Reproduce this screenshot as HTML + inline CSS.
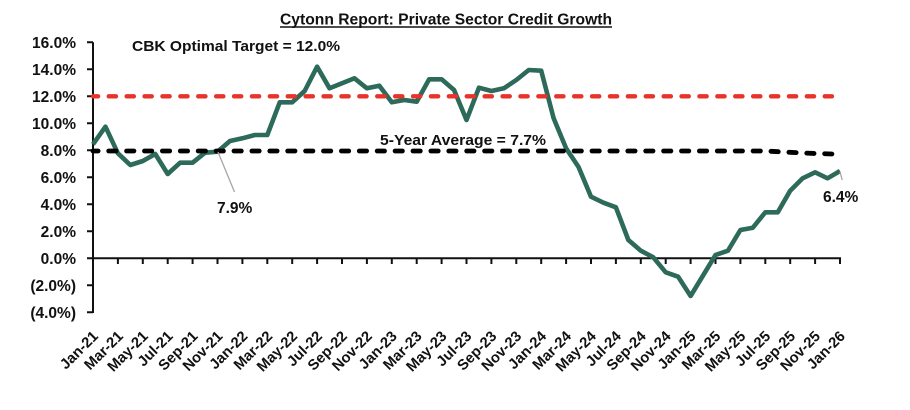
<!DOCTYPE html>
<html>
<head>
<meta charset="utf-8">
<style>
  html, body { margin: 0; padding: 0; background: #ffffff; }
  body { width: 910px; height: 410px; overflow: hidden; }
  svg { display: block; }
  text { font-family: "Liberation Sans", "DejaVu Sans", sans-serif; font-weight: bold; fill: #111111; }
</style>
</head>
<body>
<svg width="910" height="410" viewBox="0 0 910 410" xmlns="http://www.w3.org/2000/svg">
  <rect width="910" height="410" fill="#ffffff"/>

  <!-- Title -->
  <text x="280" y="24.5" font-size="16" textLength="332" lengthAdjust="spacingAndGlyphs">Cytonn Report: Private Sector Credit Growth</text>
  <line x1="280" y1="27" x2="612" y2="27" stroke="#111" stroke-width="1.4"/>

  <!-- Y axis labels -->
  <g font-size="15.5" text-anchor="end">
    <text x="76" y="47.8">16.0%</text>
    <text x="76" y="74.8">14.0%</text>
    <text x="76" y="101.8">12.0%</text>
    <text x="76" y="128.8">10.0%</text>
    <text x="76" y="155.8">8.0%</text>
    <text x="76" y="182.8">6.0%</text>
    <text x="76" y="209.8">4.0%</text>
    <text x="76" y="236.8">2.0%</text>
    <text x="76" y="263.8">0.0%</text>
    <text x="76" y="290.8">(2.0%)</text>
    <text x="76" y="317.8">(4.0%)</text>
  </g>

  <!-- Axes -->
  <g stroke="#111" stroke-width="2" fill="none">
    <line x1="93" y1="42.3" x2="93" y2="313"/>
    <line x1="92" y1="258.3" x2="841" y2="258.3"/>
    <path d="M87 42.3H93M87 69.3H93M87 96.3H93M87 123.3H93M87 150.3H93M87 177.3H93M87 204.3H93M87 231.3H93M87 258.3H93M87 285.3H93M87 312.3H93"/>
    <path d="M93 258.3V264M117.9 258.3V264M142.8 258.3V264M167.7 258.3V264M192.6 258.3V264M217.5 258.3V264M242.4 258.3V264M267.3 258.3V264M292.2 258.3V264M317.1 258.3V264M342 258.3V264M366.9 258.3V264M391.8 258.3V264M416.7 258.3V264M441.6 258.3V264M466.5 258.3V264M491.4 258.3V264M516.3 258.3V264M541.2 258.3V264M566.1 258.3V264M591 258.3V264M615.9 258.3V264M640.8 258.3V264M665.7 258.3V264M690.6 258.3V264M715.5 258.3V264M740.4 258.3V264M765.3 258.3V264M790.2 258.3V264M815.1 258.3V264M840 258.3V264"/>
  </g>

  <!-- X labels -->
  <g font-size="14.8" text-anchor="end">
    <text transform="translate(99,337) rotate(-45)">Jan-21</text>
    <text transform="translate(123.9,337) rotate(-45)">Mar-21</text>
    <text transform="translate(148.8,337) rotate(-45)">May-21</text>
    <text transform="translate(173.7,337) rotate(-45)">Jul-21</text>
    <text transform="translate(198.6,337) rotate(-45)">Sep-21</text>
    <text transform="translate(223.5,337) rotate(-45)">Nov-21</text>
    <text transform="translate(248.4,337) rotate(-45)">Jan-22</text>
    <text transform="translate(273.3,337) rotate(-45)">Mar-22</text>
    <text transform="translate(298.2,337) rotate(-45)">May-22</text>
    <text transform="translate(323.1,337) rotate(-45)">Jul-22</text>
    <text transform="translate(348,337) rotate(-45)">Sep-22</text>
    <text transform="translate(372.9,337) rotate(-45)">Nov-22</text>
    <text transform="translate(397.8,337) rotate(-45)">Jan-23</text>
    <text transform="translate(422.7,337) rotate(-45)">Mar-23</text>
    <text transform="translate(447.6,337) rotate(-45)">May-23</text>
    <text transform="translate(472.5,337) rotate(-45)">Jul-23</text>
    <text transform="translate(497.4,337) rotate(-45)">Sep-23</text>
    <text transform="translate(522.3,337) rotate(-45)">Nov-23</text>
    <text transform="translate(547.2,337) rotate(-45)">Jan-24</text>
    <text transform="translate(572.1,337) rotate(-45)">Mar-24</text>
    <text transform="translate(597,337) rotate(-45)">May-24</text>
    <text transform="translate(621.9,337) rotate(-45)">Jul-24</text>
    <text transform="translate(646.8,337) rotate(-45)">Sep-24</text>
    <text transform="translate(671.7,337) rotate(-45)">Nov-24</text>
    <text transform="translate(696.6,337) rotate(-45)">Jan-25</text>
    <text transform="translate(721.5,337) rotate(-45)">Mar-25</text>
    <text transform="translate(746.4,337) rotate(-45)">May-25</text>
    <text transform="translate(771.3,337) rotate(-45)">Jul-25</text>
    <text transform="translate(796.2,337) rotate(-45)">Sep-25</text>
    <text transform="translate(821.1,337) rotate(-45)">Nov-25</text>
    <text transform="translate(846,337) rotate(-45)">Jan-26</text>
  </g>

  <!-- Private sector credit growth series -->
  <polyline fill="none" stroke="#2D6A5A" stroke-width="4.6" stroke-linejoin="round" stroke-linecap="butt"
    points="93,144.3 105.45,126.7 117.9,153.3 130.35,165 142.8,161 155.25,154 167.7,174 180.15,162.7 192.6,162.7 205.05,152.7 217.5,151.7 229.95,141 242.4,138.3 254.85,135 267.3,135 279.75,102.3 292.2,102.3 304.65,91 317.1,66.7 329.55,88.3 342,83.3 354.45,78.3 366.9,88.3 379.35,85.7 391.8,102.3 404.25,100 416.7,101.7 429.15,79.3 441.6,79.3 454.05,90 466.5,120 478.95,87.7 491.4,91 503.85,88.3 516.3,80 528.75,70 541.2,70.7 553.65,118.3 566.1,148.3 578.55,167 591,196.7 603.45,202.7 615.9,207.3 628.35,240 640.8,250.7 653.25,257.3 665.7,272.3 678.15,276.7 690.6,296 703.05,275.5 715.5,255 727.95,250.7 740.4,230 752.85,227.7 765.3,212.3 777.75,212.3 790.2,190.7 802.65,178.3 815.1,172.3 827.55,178.3 840,171"/>

  <!-- CBK target 12% (red dashed) -->
  <line x1="93" y1="96.3" x2="840" y2="96.3" stroke="#E8322A" stroke-width="4.3" stroke-linecap="round" stroke-dasharray="7.3 10.6" stroke-dashoffset="2.2"/>

  <!-- 5-year average (black dashed) -->
  <polyline fill="none" stroke="#000" stroke-width="4.8" stroke-linecap="round" stroke-linejoin="round" stroke-dasharray="7.3 10.6" stroke-dashoffset="2.2"
    points="93,151 765,151 790,152.3 815,153.5 840,154.2"/>

  <!-- Annotations -->
  <text x="132" y="51" font-size="15" textLength="208" lengthAdjust="spacingAndGlyphs">CBK Optimal Target = 12.0%</text>
  <text x="380" y="145" font-size="15" textLength="166" lengthAdjust="spacingAndGlyphs">5-Year Average = 7.7%</text>

  <line x1="218" y1="152" x2="234.5" y2="192" stroke="#A6A6A6" stroke-width="1.3"/>
  <text x="217" y="213" font-size="15.5">7.9%</text>

  <line x1="840" y1="172" x2="842.2" y2="180" stroke="#A6A6A6" stroke-width="1.3"/>
  <text x="823" y="202" font-size="15.5">6.4%</text>
</svg>
</body>
</html>
